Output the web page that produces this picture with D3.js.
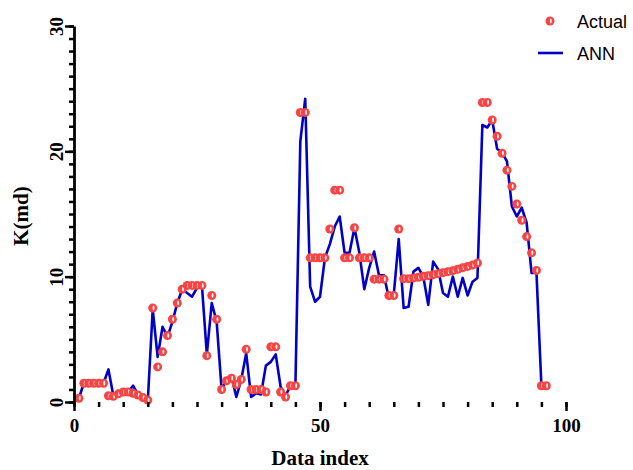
<!DOCTYPE html>
<html>
<head>
<meta charset="utf-8">
<script src="https://cdn.jsdelivr.net/npm/d3@7"></script>
<style>
  body { margin: 0; background: #fff; }
  .axis path, .axis line { stroke: #000; }
  .axis text { font-family: "Liberation Serif", serif; font-weight: bold; font-size: 19px; fill: #000; }
  .title { font-family: "Liberation Serif", serif; font-weight: bold; font-size: 21px; fill: #000; }
  .legend text { font-family: "Liberation Sans", Arial, sans-serif; font-size: 18px; fill: #000; }
</style>
</head>
<body>
<div id="chart_container"></div>
<script>
// data index 1..96
var index = d3.range(1, 97);

// measured permeability
var actual = [0.3, 1.5, 1.5, 1.5, 1.5, 1.5, 0.5, 0.45, 0.65, 0.8,
    0.8, 0.7, 0.55, 0.35, 0.15, 7.5, 2.8, 4.0, 5.3, 6.6,
    7.9, 9.0, 9.3, 9.3, 9.3, 9.3, 3.7, 8.5, 6.6, 1.0,
    1.7, 1.9, 1.4, 1.8, 4.2, 1.0, 1.0, 1.0, 0.8, 4.4,
    4.4, 0.8, 0.4, 1.3, 1.3, 23.1, 23.1, 11.5, 11.5, 11.5,
    11.5, 13.8, 16.9, 16.9, 11.5, 11.5, 13.9, 11.5, 11.5, 11.5,
    9.8, 9.8, 9.8, 8.5, 8.5, 13.8, 9.84, 9.84, 9.9, 9.95,
    10.03, 10.08, 10.16, 10.24, 10.32, 10.4, 10.48, 10.59, 10.72, 10.82,
    10.93, 11.09, 23.9, 23.9, 22.5, 21.2, 19.85, 18.5, 17.2, 15.8,
    14.5, 13.2, 11.9, 10.5, 1.3, 1.3];

// ANN prediction
var ann = [0.3, 1.5, 1.5, 1.5, 1.5, 1.5, 2.6, 0.5, 0.6, 0.7,
    0.8, 1.3, 0.6, 0.3, 0.1, 7.4, 3.6, 6.0, 5.2, 6.4,
    7.9, 9.0, 8.7, 8.4, 9.1, 9.3, 3.8, 7.9, 6.4, 1.0,
    1.7, 2.0, 0.4, 1.8, 3.9, 0.4, 0.7, 0.6, 2.9, 3.2,
    3.8, 1.2, 0.5, 1.3, 1.3, 20.8, 24.2, 9.2, 8.0, 8.4,
    11.5, 12.6, 14.0, 14.8, 11.9, 11.9, 13.9, 11.9, 9.0, 10.7,
    12.0, 10.1, 10.1, 8.3, 8.6, 13.0, 7.5, 7.6, 10.4, 10.7,
    10.0, 7.75, 11.2, 10.6, 8.7, 8.4, 10.0, 8.4, 9.9, 8.5,
    9.6, 9.9, 22.1, 21.9, 22.5, 20.2, 19.9, 19.2, 15.6, 14.8,
    15.5, 14.3, 10.3, 10.3, 1.3, 1.3];

var xMinor = d3.range(0, 101, 5);
var xMajor = [0, 50, 100];
var yMinor = d3.range(0, 31, 1);
var yMajor = [0, 10, 20, 30];

var W = 633, H = 470;
var margin = { top: 26, right: 67, bottom: 68, left: 74 },
    width = W - margin.left - margin.right,
    height = H - margin.top - margin.bottom;

var x = d3.scaleLinear().domain([0, 100]).range([0, width]);
var y = d3.scaleLinear().domain([0, 30]).range([height, 0]);

var svg = d3.select("#chart_container").append("svg")
    .attr("width", W)
    .attr("height", H)
    .append("g")
    .attr("transform", "translate(" + margin.left + "," + margin.top + ")");

var data = index.map(function(d, i) {
    return { i: d, actual: actual[i], ann: ann[i] };
});

// ANN line
var annLine = d3.line()
    .x(function(d) { return x(d.i); })
    .y(function(d) { return y(d.ann); });

svg.append("path")
    .datum(data)
    .attr("fill", "none")
    .attr("stroke", "#0000c8")
    .attr("stroke-width", 2.6)
    .attr("stroke-linejoin", "round")
    .attr("d", annLine);

// actual points: red dot with a small white highlight
function marker(sel) {
    sel.append("circle")
        .attr("r", 4.5)
        .attr("fill", "#f84444");
    sel.append("ellipse")
        .attr("cx", 0.8)
        .attr("rx", 0.9)
        .attr("ry", 2.4)
        .attr("fill", "#fff");
}

svg.append("g").selectAll("g")
    .data(data)
    .enter().append("g")
    .attr("transform", function(d) { return "translate(" + x(d.i) + "," + y(d.actual) + ")"; })
    .call(marker);

// x axis: minor then major ticks
var gx = svg.append("g")
    .attr("class", "axis")
    .attr("transform", "translate(0," + height + ")");
gx.call(d3.axisBottom(x).tickValues(xMinor).tickSize(5).tickSizeOuter(0).tickFormat(""));
gx.append("g").call(d3.axisBottom(x).tickValues(xMajor).tickSize(9).tickPadding(8).tickFormat(d3.format("d")));
gx.selectAll("path").attr("stroke-width", 2.8);
gx.selectAll("line").attr("stroke-width", 2.5);
gx.selectAll("g > g > path").remove();

// y axis: minor then major ticks, labels rotated
var gy = svg.append("g").attr("class", "axis");
gy.call(d3.axisLeft(y).tickValues(yMinor).tickSize(5).tickSizeOuter(0).tickFormat(""));
var gyMaj = gy.append("g").call(d3.axisLeft(y).tickValues(yMajor).tickSize(9).tickFormat(d3.format("d")));
gyMaj.select("path").remove();
gyMaj.selectAll("text")
    .attr("x", null).attr("dy", null)
    .attr("text-anchor", "middle")
    .attr("transform", "translate(-11,0) rotate(-90)");
gy.selectAll("path").attr("stroke-width", 2.8);
gy.selectAll("line").attr("stroke-width", 2.5);

// axis titles
svg.append("text")
    .attr("class", "title")
    .attr("x", width / 2)
    .attr("y", height + 63)
    .attr("text-anchor", "middle")
    .text("Data index");

svg.append("text")
    .attr("class", "title")
    .attr("transform", "translate(-46," + (height / 2 + 2) + ") rotate(-90)")
    .attr("text-anchor", "middle")
    .text("K(md)");

// legend
var legend = d3.select("svg").append("g").attr("class", "legend");
legend.append("g").attr("transform", "translate(550,21)").call(marker);
legend.append("text").attr("x", 577).attr("y", 27.5).text("Actual");
legend.append("line")
    .attr("x1", 538).attr("x2", 563).attr("y1", 53).attr("y2", 53)
    .attr("stroke", "#0000c8").attr("stroke-width", 2.6);
legend.append("text").attr("x", 577).attr("y", 59.5).text("ANN");
</script>
</body>
</html>
